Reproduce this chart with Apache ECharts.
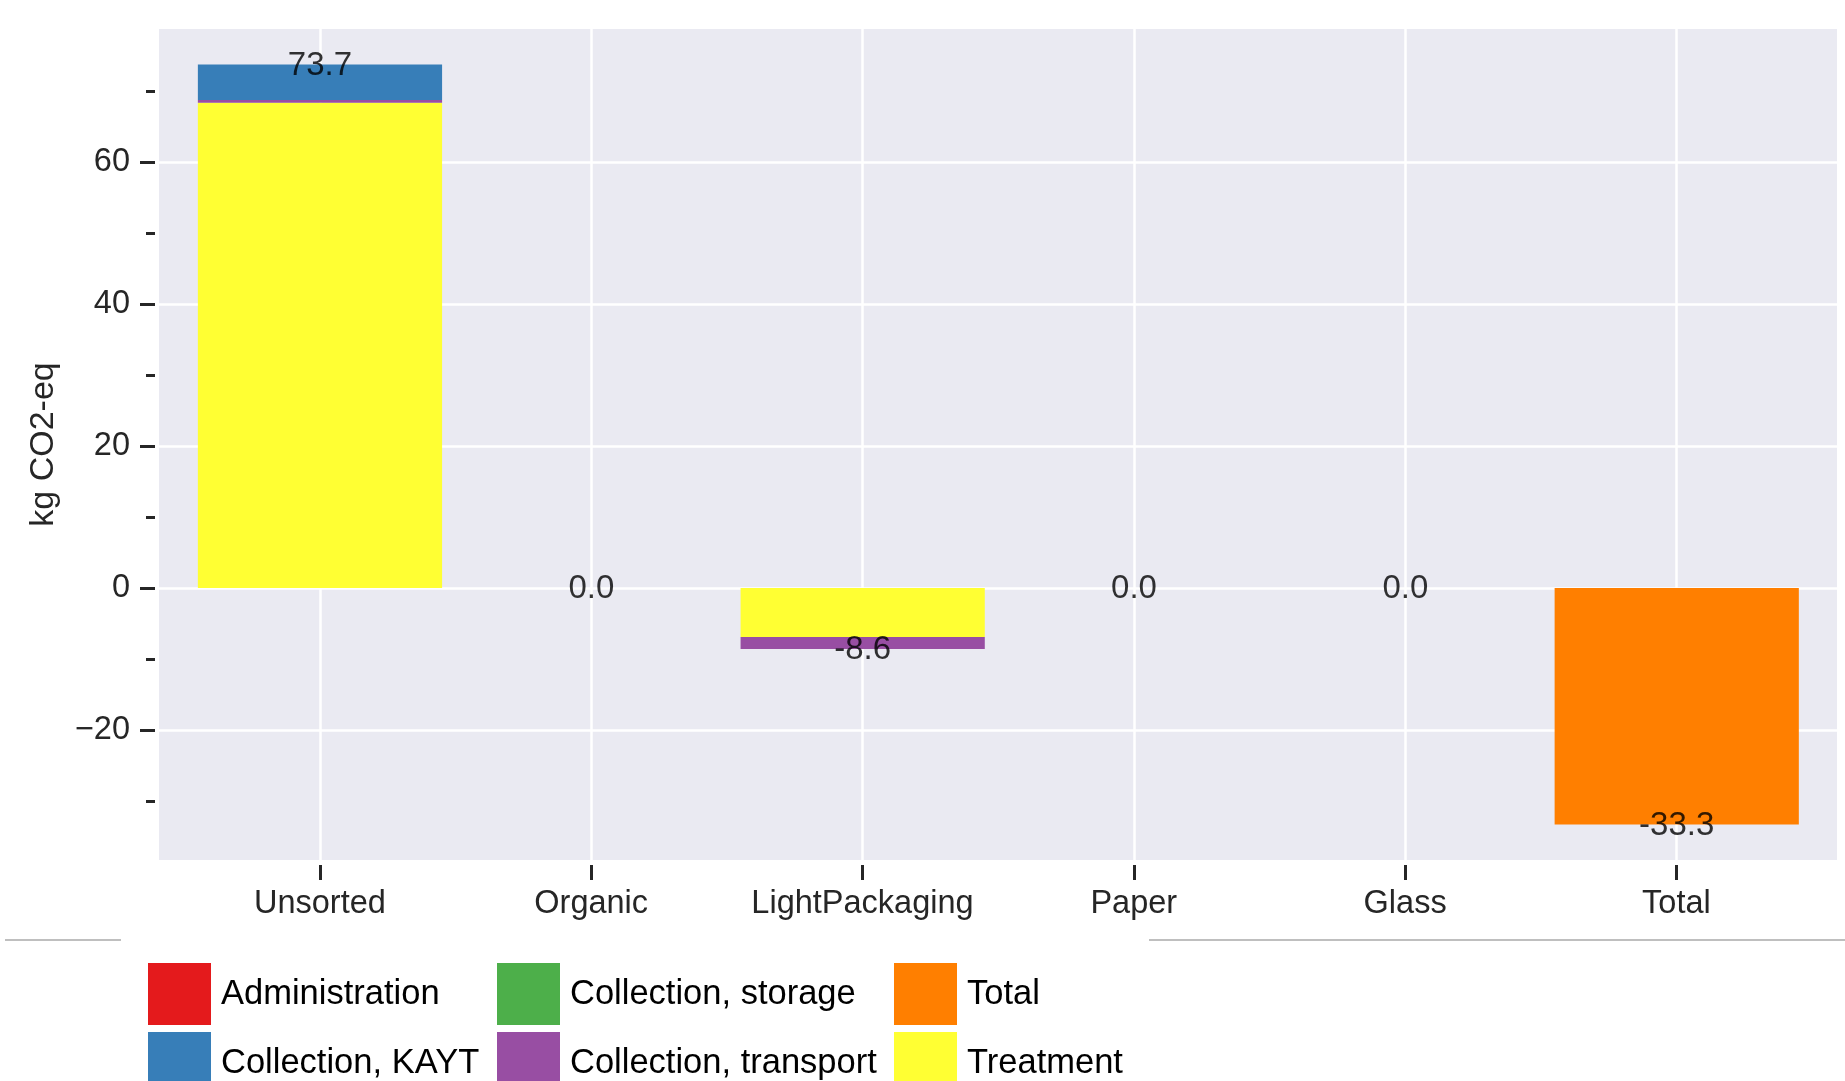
<!DOCTYPE html>
<html>
<head>
<meta charset="utf-8">
<script src="https://cdn.jsdelivr.net/npm/echarts@6/dist/echarts.min.js"></script>
<style>
html,body{margin:0;padding:0;background:#fff;}
#chart{width:1845px;height:1081px;}
</style>
</head>
<body>
<div id="chart"></div>
<script>
// ---- data ----
const categories = ['Unsorted', 'Organic', 'LightPackaging', 'Paper', 'Glass', 'Total'];
const treatment = [68.3, 0, -6.9, 0, 0, 0];
const collectionTransport = [0.4, 0, -1.7, 0, 0, 0];
const collectionStorage = [0, 0, 0, 0, 0, 0];
const collectionKAYT = [5.0, 0, 0, 0, 0, 0];
const administration = [0, 0, 0, 0, 0, 0];
const totalSeries = [0, 0, 0, 0, 0, -33.3];
const barTotals = [73.7, 0.0, -8.6, 0.0, 0.0, -33.3];
const yMajorTicks = [-20, 0, 20, 40, 60];
const yMinorTicks = [-30, -10, 10, 30, 50, 70];
const xTickPositions = [0, 1, 2, 3, 4, 5];
// legend grid: columns then rows
const legendColumns = [
  ['Administration', 'Collection, KAYT'],
  ['Collection, storage', 'Collection, transport'],
  ['Total', 'Treatment']
];

const FONT = 'Liberation Sans, Arial, sans-serif';
const colors = {
  'Administration': '#E41A1C',
  'Collection, KAYT': '#377EB8',
  'Collection, storage': '#4DAF4A',
  'Collection, transport': '#984EA3',
  'Total': '#FF7F00',
  'Treatment': '#FFFF33'
};
const Y_MIN = -38.3, Y_MAX = 78.7;

function barSeries(name, data) {
  return {
    name: name, type: 'bar', stack: 'all', xAxisIndex: 1, yAxisIndex: 2,
    data: data, barWidth: '90%', itemStyle: { color: colors[name] },
    emphasis: { disabled: true }
  };
}

const legendColLeft = [148, 497, 894];
const legendRowTop = [963, 1032];
const legends = [];
legendColumns.forEach(function (col, ci) {
  col.forEach(function (name, ri) {
    legends.push({
      orient: 'horizontal', left: legendColLeft[ci], top: legendRowTop[ri],
      itemWidth: 63, itemHeight: 62, padding: 0, icon: 'rect', selectedMode: false,
      data: [name],
      textStyle: { fontFamily: FONT, fontSize: 34.5, color: '#000', padding: [0, 0, 0, 5] }
    });
  });
});

const chart = echarts.init(document.getElementById('chart'));
chart.setOption({
  animation: false,
  backgroundColor: '#ffffff',
  grid: [
    { left: 159, right: 8, top: 29, bottom: 221, show: true, backgroundColor: '#EAEAF2', borderWidth: 0, containLabel: false },
    { left: 184.3, right: 32.6, top: 29, bottom: 221, show: false, containLabel: false }
  ],
  xAxis: [
    {
      type: 'value', gridIndex: 0, min: -0.593, max: 5.592, offset: 5, position: 'bottom',
      axisLine: { show: false, onZero: false },
      axisTick: { show: true, customValues: xTickPositions, length: 15, lineStyle: { color: '#262626', width: 3 } },
      axisLabel: {
        show: true, customValues: xTickPositions, margin: 23,
        fontFamily: FONT, fontSize: 32.5, color: '#262626',
        formatter: function (v) { return categories[Math.round(v)] || ''; }
      },
      splitLine: { show: true, lineStyle: { color: '#ffffff', width: 2.5 } }
    },
    {
      type: 'category', gridIndex: 1, data: categories,
      axisLine: { show: false, onZero: false }, axisTick: { show: false }, axisLabel: { show: false }, splitLine: { show: false }
    }
  ],
  yAxis: [
    {
      type: 'value', gridIndex: 0, min: Y_MIN, max: Y_MAX, offset: 4, position: 'left',
      name: 'kg CO2-eq', nameLocation: 'middle', nameGap: 94, nameRotate: 90,
      nameTextStyle: { fontFamily: FONT, fontSize: 34, color: '#262626' },
      axisLine: { show: false, onZero: false },
      axisTick: { show: true, customValues: yMajorTicks, length: 15, lineStyle: { color: '#262626', width: 3 } },
      axisLabel: {
        show: true, customValues: yMajorTicks, margin: 25,
        fontFamily: FONT, fontSize: 32.5, color: '#262626',
        formatter: function (v) { return v < 0 ? '\u2212' + Math.abs(v) : String(v); }
      },
      splitLine: { show: true, lineStyle: { color: '#ffffff', width: 2.5 } }
    },
    {
      type: 'value', gridIndex: 0, min: Y_MIN, max: Y_MAX, offset: 4, position: 'left',
      axisLine: { show: false, onZero: false },
      axisTick: { show: true, customValues: yMinorTicks, length: 9, lineStyle: { color: '#262626', width: 3 } },
      axisLabel: { show: false }, splitLine: { show: false }
    },
    {
      type: 'value', gridIndex: 1, min: Y_MIN, max: Y_MAX,
      axisLine: { show: false, onZero: false }, axisTick: { show: false }, axisLabel: { show: false }, splitLine: { show: false }
    }
  ],
  legend: legends,
  graphic: [
    { type: 'line', shape: { x1: 5, y1: 940, x2: 121, y2: 940 }, style: { stroke: '#aaaaaa', lineWidth: 1.5 } },
    { type: 'line', shape: { x1: 1149, y1: 940, x2: 1845, y2: 940 }, style: { stroke: '#aaaaaa', lineWidth: 1.5 } }
  ],
  series: [
    barSeries('Treatment', treatment),
    barSeries('Collection, transport', collectionTransport),
    barSeries('Collection, storage', collectionStorage),
    barSeries('Collection, KAYT', collectionKAYT),
    barSeries('Administration', administration),
    barSeries('Total', totalSeries),
    {
      name: 'labels', type: 'scatter', xAxisIndex: 1, yAxisIndex: 2, z: 10,
      data: barTotals, symbolSize: 1, itemStyle: { color: 'rgba(0,0,0,0)' },
      emphasis: { disabled: true }, silent: true,
      label: {
        show: true, position: 'inside', offset: [0, 1],
        fontFamily: FONT, fontSize: 33, color: '#000',
        formatter: function (p) { return p.value.toFixed(1); }
      }
    }
  ]
});
</script>
</body>
</html>
